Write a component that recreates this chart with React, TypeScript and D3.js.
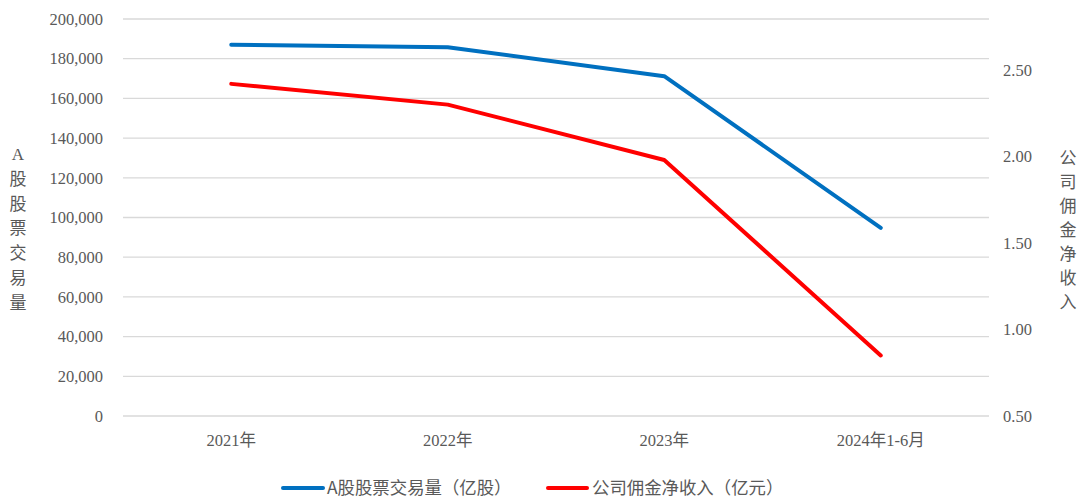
import * as d3 from "d3";

const categories = ["2021年", "2022年", "2023年", "2024年1-6月"];
const volume = [187000, 185800, 171200, 94800];
const commission = [2.42, 2.3, 1.98, 0.85];
const leftTicks = [0, 20000, 40000, 60000, 80000, 100000, 120000, 140000, 160000, 180000, 200000];
const rightTicks = [0.5, 1.0, 1.5, 2.0, 2.5];

const W = 1078;
const H = 498;
const serif = "Liberation Serif, Times New Roman, DejaVu Serif, Noto Sans CJK SC, serif";
const cjk = "Noto Sans CJK SC, sans-serif";
const grey = "#595959";

export default function App() {
  const x = d3.scaleBand().domain(categories).range([123, 989]);
  const yL = d3.scaleLinear().domain([0, 200000]).range([416, 19]);
  const yR = d3.scaleLinear().domain([0.5, 2.795]).range([416, 19]);
  const cx = (c: string) => (x(c) ?? 0) + x.bandwidth() / 2;

  const blue = d3
    .line<number>()
    .x((_, i) => cx(categories[i]))
    .y((d) => yL(d))(volume);
  const red = d3
    .line<number>()
    .x((_, i) => cx(categories[i]))
    .y((d) => yR(d))(commission);

  const fmt = d3.format(",");
  const leftLabel = ["A", "股", "股", "票", "交", "易", "量"];
  const rightLabel = ["公", "司", "佣", "金", "净", "收", "入"];

  return (
    <svg
      width={W}
      height={H}
      style={{ position: "absolute", left: 0, top: 0, background: "#fff" }}
    >
      {leftTicks.map((t) => (
        <g key={t}>
          <line x1={123} x2={989} y1={yL(t)} y2={yL(t)} stroke="#d9d9d9" strokeWidth={1.3} />
          <text x={103} y={yL(t)} dy="0.35em" textAnchor="end" style={{ fontFamily: serif }} fontSize={16.5} fill={grey}>
            {fmt(t)}
          </text>
        </g>
      ))}
      {rightTicks.map((t) => (
        <text key={t} x={1003} y={yR(t)} dy="0.35em" style={{ fontFamily: serif }} fontSize={16.5} fill={grey}>
          {t.toFixed(2)}
        </text>
      ))}
      {categories.map((c) => (
        <text key={c} x={cx(c)} y={440} dy="0.35em" textAnchor="middle" style={{ fontFamily: serif }} fontSize={16.5} fill={grey}>
          {c}
        </text>
      ))}
      {leftLabel.map((ch, i) => (
        <text key={i} x={18} y={154 + i * 24.8} dy="0.35em" textAnchor="middle" style={{ fontFamily: i === 0 ? serif : cjk }} fontSize={17} fill={grey}>
          {ch}
        </text>
      ))}
      {rightLabel.map((ch, i) => (
        <text key={i} x={1068} y={158 + i * 24} dy="0.35em" textAnchor="middle" style={{ fontFamily: cjk }} fontSize={17} fill={grey}>
          {ch}
        </text>
      ))}
      <path d={blue ?? ""} fill="none" stroke="#0070C0" strokeWidth={4} strokeLinecap="round" strokeLinejoin="round" />
      <path d={red ?? ""} fill="none" stroke="#FF0000" strokeWidth={4} strokeLinecap="round" strokeLinejoin="round" />
      <line x1={283} x2={323} y1={488} y2={488} stroke="#0070C0" strokeWidth={4} strokeLinecap="round" />
      <text x={327} y={488} dy="0.35em" style={{ fontFamily: cjk }} fontSize={17.4} fill={grey}>
        A股股票交易量（亿股）
      </text>
      <line x1={548} x2={587} y1={488} y2={488} stroke="#FF0000" strokeWidth={4} strokeLinecap="round" />
      <text x={592} y={488} dy="0.35em" style={{ fontFamily: cjk }} fontSize={17.4} fill={grey}>
        公司佣金净收入（亿元）
      </text>
    </svg>
  );
}
